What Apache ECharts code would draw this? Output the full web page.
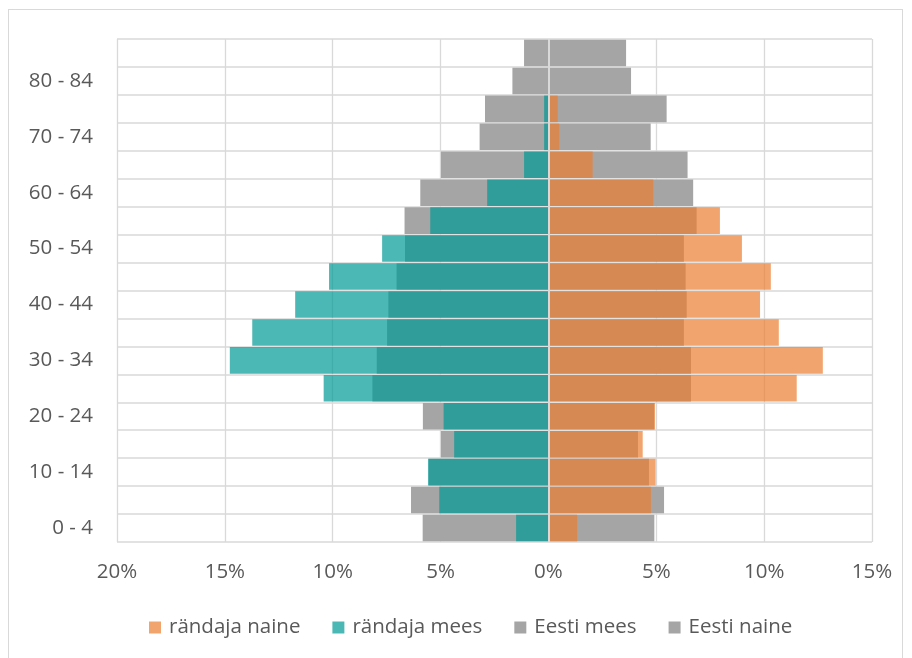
<!DOCTYPE html>
<html>
<head>
<meta charset="utf-8">
<script src="https://cdn.jsdelivr.net/npm/echarts@6/dist/echarts.min.js"></script>
<style>
  html, body { margin: 0; padding: 0; background: #ffffff; }
  #chart { width: 912px; height: 658px; position: absolute; left: 0; top: 0; }
  #frame { position: absolute; left: 8px; top: 9px; width: 893px; height: 680px;
           border: 1.5px solid #d9d9d9; pointer-events: none; }
</style>
</head>
<body>
<div id="chart"></div>
<div id="frame"></div>
<script>
// Age groups, bottom to top
var categories = ['0 - 4','5 - 9','10 - 14','15 - 19','20 - 24','25 - 29','30 - 34','35 - 39','40 - 44',
                  '45 - 49','50 - 54','55 - 59','60 - 64','65 - 69','70 - 74','75 - 79','80 - 84','85+'];
// Shares in % (men drawn to the left)
var eestiMees     = [5.83, 6.37, 5.55, 4.98, 5.82, 8.16, 7.96, 7.48, 7.42, 7.04, 6.65, 6.67, 5.94, 4.98, 3.19, 2.94, 1.67, 1.13];
var randajaMees   = [1.50, 5.06, 5.58, 4.37, 4.86, 10.42, 14.77, 13.73, 11.74, 10.17, 7.71, 5.48, 2.84, 1.13, 0.20, 0.20, 0, 0];
var eestiNaine    = [4.91, 5.36, 4.66, 4.15, 4.90, 6.61, 6.61, 6.28, 6.41, 6.36, 6.28, 6.87, 6.71, 6.45, 4.74, 5.48, 3.83, 3.60];
var randajaNaine  = [1.33, 4.75, 4.97, 4.37, 4.94, 11.51, 12.72, 10.68, 9.81, 10.31, 8.97, 7.95, 4.86, 2.05, 0.50, 0.43, 0, 0];
var legendNames   = ['rändaja naine', 'rändaja mees', 'Eesti mees', 'Eesti naine'];

var FONT = 'Open Sans';
var TXT = '#595959';
var FS = 20.5;
var chart = echarts.init(document.getElementById('chart'), null, { renderer: 'canvas' });

function neg(a) { return a.map(function (v) { return -v; }); }

var option = {
  backgroundColor: '#ffffff',
  animation: false,
  textStyle: { fontFamily: FONT },
  grid: { left: 117, right: 40, top: 39, bottom: 116, containLabel: false },
  legend: {
    data: legendNames,
    left: 144, top: 612,
    itemWidth: 12, itemHeight: 12, itemGap: 32,
    icon: 'rect',
    textStyle: { fontFamily: FONT, fontSize: FS, color: TXT, padding: [0, 0, 0, 3] }
  },
  xAxis: {
    type: 'value', min: -20, max: 15, interval: 5,
    axisLine: { show: false }, axisTick: { show: false },
    axisLabel: { fontFamily: FONT, fontSize: FS, color: TXT, margin: 20,
      formatter: function (v) { return Math.abs(v) + '%'; } },
    splitLine: { show: true, lineStyle: { color: '#d9d9d9', width: 1.3 } }
  },
  yAxis: {
    type: 'category', data: categories,
    axisLine: { show: false }, axisTick: { show: false },
    axisLabel: { fontFamily: FONT, fontSize: FS, color: TXT, margin: 24, interval: 1 },
    splitLine: { show: true, interval: 0, lineStyle: { color: '#d9d9d9', width: 1.5 } }
  },
  series: [
    { name: 'Eesti mees', type: 'bar', data: neg(eestiMees), barGap: '-100%', barCategoryGap: '5%',
      itemStyle: { color: '#a5a5a5' }, z: 2 },
    { name: 'Eesti naine', type: 'bar', data: eestiNaine, barGap: '-100%', barCategoryGap: '5%',
      itemStyle: { color: '#a5a5a5' }, z: 2 },
    { name: 'rändaja naine', type: 'bar', data: randajaNaine, barGap: '-100%', barCategoryGap: '5%',
      itemStyle: { color: 'rgba(237,125,49,0.7)' }, z: 3 },
    { name: 'rändaja mees', type: 'bar', data: neg(randajaMees), barGap: '-100%', barCategoryGap: '5%',
      itemStyle: { color: 'rgba(0,154,150,0.7)' }, z: 4,
      markLine: { silent: true, symbol: 'none', label: { show: false },
        lineStyle: { color: '#d9d9d9', width: 2, type: 'solid' },
        data: [{ xAxis: 0 }] } }
  ]
};
chart.setOption(option);
</script>
</body>
</html>
